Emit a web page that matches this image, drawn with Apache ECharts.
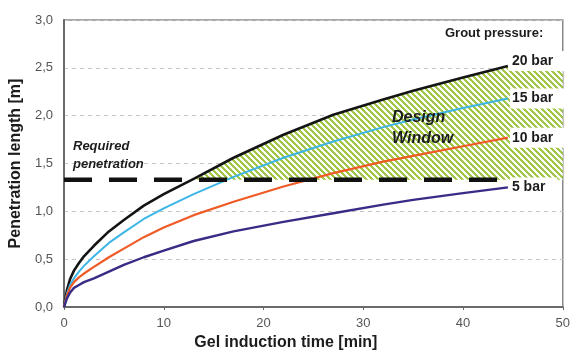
<!DOCTYPE html>
<html>
<head>
<meta charset="utf-8">
<script src="https://cdn.jsdelivr.net/npm/echarts@6/dist/echarts.min.js"></script>
<style>
  html, body { margin: 0; padding: 0; background: #fff; }
  #chart { width: 573px; height: 358px; }
</style>
</head>
<body>
<div id="chart"></div>
<script>
// Gel induction time [min]
const gelTime = [0, 0.3, 0.6, 1, 1.5, 2, 3, 4.5, 6, 8, 10, 13, 17, 22, 27, 32, 35, 40, 44.5];
// Penetration length [m] per grout pressure
const bar20 = [0, 0.18, 0.29, 0.38, 0.46, 0.53, 0.64, 0.79, 0.91, 1.06, 1.18, 1.34, 1.56, 1.80, 2.01, 2.17, 2.26, 2.40, 2.52];
const bar15 = [0, 0.14, 0.23, 0.30, 0.37, 0.43, 0.53, 0.67, 0.78, 0.92, 1.03, 1.18, 1.36, 1.56, 1.73, 1.88, 1.96, 2.08, 2.18];
const bar10 = [0, 0.12, 0.20, 0.26, 0.31, 0.35, 0.42, 0.52, 0.61, 0.73, 0.83, 0.96, 1.10, 1.26, 1.40, 1.52, 1.58, 1.68, 1.77];
const bar5  = [0, 0.09, 0.15, 0.20, 0.23, 0.26, 0.30, 0.37, 0.44, 0.52, 0.59, 0.69, 0.79, 0.89, 0.98, 1.07, 1.12, 1.19, 1.25];
const pressureNames = ['20 bar', '15 bar', '10 bar', '5 bar'];
const requiredPenetration = 1.33;
const windowStart = 12.8;     // time where the 20 bar curve reaches the requirement
const windowRightTop = 2.47;  // upper edge of the window band beyond the curves
const xMax = 50;
const yMax = 3.0;

// diagonal hatch tile for the design window
function hatchPattern() {
  const s = 6, w = 3;
  const c = document.createElement('canvas');
  c.width = s; c.height = s;
  const ctx = c.getContext('2d');
  const img = ctx.createImageData(s, s);
  for (let y = 0; y < s; y++) {
    for (let x = 0; x < s; x++) {
      const i = (y * s + x) * 4;
      const on = ((x - y) % s + s) % s < w;
      img.data[i] = on ? 160 : 255;
      img.data[i + 1] = on ? 200 : 255;
      img.data[i + 2] = on ? 70 : 255;
      img.data[i + 3] = 255;
    }
  }
  ctx.putImageData(img, 0, 0);
  return c;
}
const hatch = hatchPattern();

const pairs = (xs, ys) => xs.map((x, i) => [x, ys[i]]);

// design window outline: top edge follows the 20 bar curve, bottom edge is the requirement
const winTop = [[windowStart, requiredPenetration]];
gelTime.forEach((t, i) => { if (t > windowStart) winTop.push([t, bar20[i]]); });
winTop.push([gelTime[gelTime.length - 1], windowRightTop], [xMax, windowRightTop]);

const textFont = 'Liberation Sans, Arial, sans-serif';
const curveColors = ['#141414', '#3db6e6', '#ef5a26', '#3a2c86'];
const curveWidths = [2.6, 2, 2.2, 2.4];
const curveData = [bar20, bar15, bar10, bar5];

const curveSeries = curveData.map((ys, k) => ({
  name: pressureNames[k],
  type: 'line',
  data: pairs(gelTime, ys),
  smooth: false,
  symbol: 'none',
  z: 5,
  lineStyle: { color: curveColors[k], width: curveWidths[k], join: 'round' },
  endLabel: {
    show: true,
    formatter: '{a}',
    color: '#1c1c1c',
    fontFamily: textFont,
    fontWeight: 'bold',
    fontSize: 14,
    backgroundColor: '#fff',
    padding: [3, 12, 3, 2],
    distance: 2,
    offset: k === 0 ? [0, -5] : [0, 0]
  }
}));

const chart = echarts.init(document.getElementById('chart'), null, { renderer: 'canvas' });
chart.setOption({
  animation: false,
  backgroundColor: '#fff',
  grid: { left: 64, right: 10, top: 20, bottom: 51, show: true, borderColor: '#8a8a8a', borderWidth: 1.5 },
  xAxis: {
    type: 'value', min: 0, max: xMax, interval: 10,
    name: 'Gel induction time [min]',
    nameLocation: 'middle', nameGap: 27,
    nameTextStyle: { fontFamily: textFont, fontWeight: 'bold', fontSize: 16, color: '#1c1c1c', padding: [0, 55, 0, 0] },
    axisLine: { lineStyle: { color: '#6a6a6a', width: 2 } },
    axisTick: { show: true, length: 3, lineStyle: { color: '#6a6a6a' } },
    axisLabel: { color: '#555', fontFamily: textFont, fontSize: 13, margin: 10 },
    splitLine: { show: false }
  },
  yAxis: {
    type: 'value', min: 0, max: yMax, interval: 0.5,
    name: 'Penetration length [m]',
    nameLocation: 'middle', nameGap: 40,
    nameTextStyle: { fontFamily: textFont, fontWeight: 'bold', fontSize: 16, color: '#1c1c1c' },
    axisLine: { show: true, lineStyle: { color: '#6a6a6a', width: 2 } },
    axisTick: { show: false },
    axisLabel: {
      color: '#555', fontFamily: textFont, fontSize: 13, margin: 11,
      formatter: v => v.toFixed(1).replace('.', ',')
    },
    splitLine: { show: true, lineStyle: { color: '#c4c4c4', type: [4, 4], width: 1 } }
  },
  series: [
    {
      type: 'custom',
      silent: true,
      z: 2,
      data: winTop,
      encode: { x: 0, y: 1 },
      renderItem: (params, api) => {
        if (params.dataIndex !== 0) return null;
        const pts = winTop.map(p => api.coord(p));
        pts.push(api.coord([xMax, requiredPenetration]));
        return {
          type: 'polygon',
          shape: { points: pts },
          style: { fill: { image: hatch, repeat: 'repeat' }, stroke: null }
        };
      }
    },
    ...curveSeries,
    {
      type: 'line', data: [[0, requiredPenetration], [gelTime[gelTime.length - 1], requiredPenetration]],
      symbol: 'none', z: 6,
      lineStyle: { color: '#111', width: 4.5, type: [28, 17] }
    }
  ],
  graphic: [
    { type: 'text', left: 445, top: 27, z: 20, style: { text: 'Grout pressure:', font: 'bold 13px ' + textFont, fill: '#1c1c1c' } },
    { type: 'text', left: 73, top: 137, z: 20, style: { text: 'Required\npenetration', font: 'italic bold 13px ' + textFont, fill: '#1c1c1c', lineHeight: 18 } },
    { type: 'text', left: 392, top: 107, z: 20, style: { text: 'Design\nWindow', font: 'italic bold 16px ' + textFont, fill: '#1c1c1c', lineHeight: 21 } }
  ]
});
</script>
</body>
</html>
